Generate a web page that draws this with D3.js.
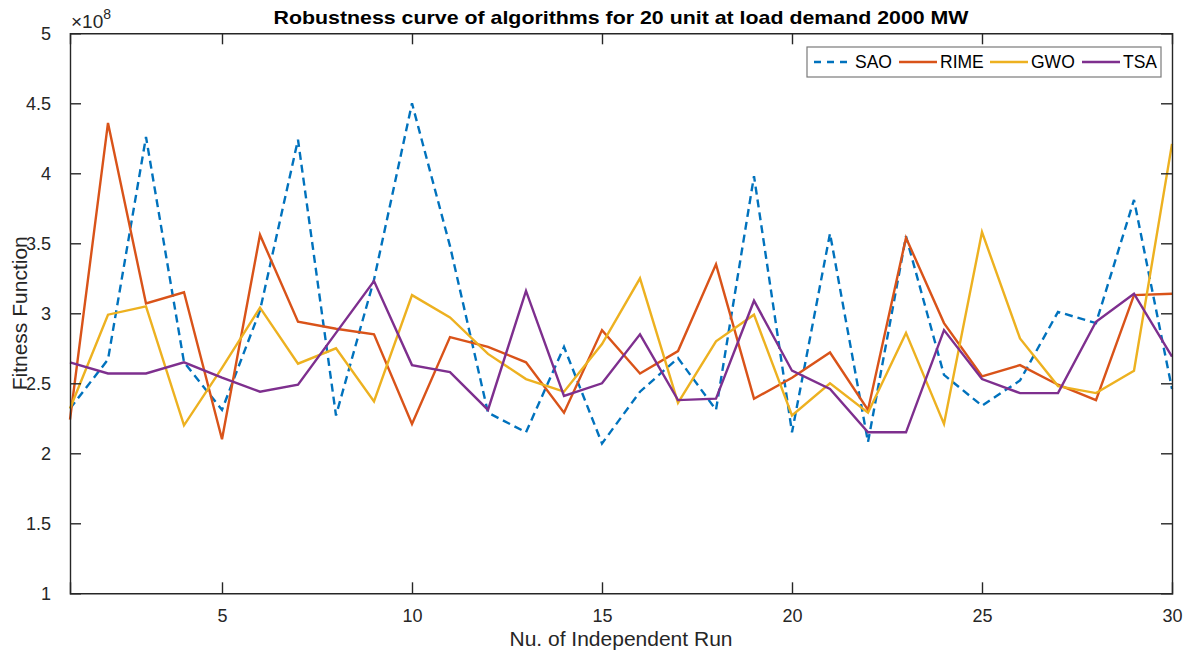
<!DOCTYPE html>
<html>
<head>
<meta charset="utf-8">
<script src="https://cdn.jsdelivr.net/npm/d3@7"></script>
<style>
  body { margin: 0; background: #fff; }
  svg { font-family: "Liberation Sans", Arial, Helvetica, sans-serif; }
</style>
</head>
<body>
<svg id="chart" width="1193" height="660"></svg>
<script>
// independent runs 1..30, fitness values in units of 1e8
var runs = d3.range(1, 31);
var sao  = [2.32, 2.67, 4.26, 2.65, 2.31, 3.02, 4.24, 2.27, 3.24, 4.50,
            3.48, 2.29, 2.15, 2.76, 2.07, 2.44, 2.68, 2.31, 3.98, 2.15,
            3.57, 2.08, 3.55, 2.56, 2.34, 2.52, 3.01, 2.93, 3.81, 2.46];
var rime = [2.24, 4.36, 3.07, 3.15, 2.10, 3.56, 2.94, 2.89, 2.85, 2.21,
            2.83, 2.76, 2.65, 2.29, 2.88, 2.57, 2.73, 3.35, 2.39, 2.54,
            2.72, 2.31, 3.54, 2.93, 2.55, 2.63, 2.49, 2.38, 3.13, 3.14];
var gwo  = [2.32, 2.99, 3.05, 2.20, 2.61, 3.04, 2.64, 2.75, 2.37, 3.13,
            2.97, 2.71, 2.53, 2.44, 2.78, 3.25, 2.36, 2.80, 2.99, 2.27,
            2.50, 2.29, 2.86, 2.21, 3.58, 2.82, 2.48, 2.43, 2.59, 4.21];
var tsa  = [2.65, 2.57, 2.57, 2.65, 2.54, 2.44, 2.49, 2.86, 3.23, 2.63,
            2.58, 2.31, 3.16, 2.41, 2.50, 2.85, 2.38, 2.39, 3.09, 2.59,
            2.46, 2.15, 2.15, 2.88, 2.53, 2.43, 2.43, 2.94, 3.14, 2.69];
var names  = ["SAO", "RIME", "GWO", "TSA"];
var colors = ["#0072BD", "#D95319", "#EDB120", "#7E2F8E"];
var xTicks = [5, 10, 15, 20, 25, 30];
var yTicks = [1, 1.5, 2, 2.5, 3, 3.5, 4, 4.5, 5];

var series = [sao, rime, gwo, tsa];

var svg = d3.select("#chart");
// plot box (window.top is read-only, so no bare "top")
var pl = 70, pr = 1172, pt = 33.3, pb = 593.3;
var axisCol = "#262626";

var x = d3.scaleLinear().domain([1, 30]).range([pl, pr]);
var y = d3.scaleLinear().domain([1, 5]).range([pb, pt]);

// lines first, axes drawn on top
var line = d3.line()
  .x(function(d, i) { return x(runs[i]); })
  .y(function(d) { return y(d); });

var g = svg.append("g");
series.forEach(function(s, k) {
  g.append("path")
    .datum(s)
    .attr("d", line)
    .attr("fill", "none")
    .attr("stroke", colors[k])
    .attr("stroke-width", 2.4)
    .attr("stroke-linejoin", "miter")
    .attr("stroke-dasharray", k == 0 ? "8,5" : null);
});

// axes, ticks pointing inward
var tickLen = 11;
var xb = svg.append("g").attr("transform", "translate(0," + pb + ")")
  .call(d3.axisBottom(x).tickValues(xTicks).tickSize(-tickLen).tickPadding(tickLen + 5));
var xt = svg.append("g").attr("transform", "translate(0," + pt + ")")
  .call(d3.axisTop(x).tickValues(xTicks).tickSize(-tickLen).tickFormat(""));
var yl = svg.append("g").attr("transform", "translate(" + pl + ",0)")
  .call(d3.axisLeft(y).tickValues(yTicks).tickSize(-tickLen).tickPadding(tickLen + 8)
    .tickFormat(function(d) { return d3.format("")(d); }));
var yr = svg.append("g").attr("transform", "translate(" + pr + ",0)")
  .call(d3.axisRight(y).tickValues(yTicks).tickSize(-tickLen).tickFormat(""));

[xb, xt, yl, yr].forEach(function(a) {
  a.select(".domain").attr("stroke", axisCol).attr("stroke-width", 1.4);
  a.selectAll(".tick line").attr("stroke", axisCol).attr("stroke-width", 1.4);
  a.selectAll(".tick text").attr("fill", axisCol).style("font-size", "18px")
    .style("font-family", "'Liberation Sans', Arial, sans-serif");
});
// drop the edge ticks that sit on the frame corners
xb.selectAll(".tick line").filter(function(d) { return d == 30; }).remove();
xt.selectAll(".tick line").filter(function(d) { return d == 30; }).remove();
yl.selectAll(".tick line").filter(function(d) { return d == 1 || d == 5; }).remove();
yr.selectAll(".tick line").filter(function(d) { return d == 1 || d == 5; }).remove();

// exponent label
var ex = svg.append("text").attr("x", 71).attr("y", 28)
  .attr("fill", axisCol).style("font-size", "19px");
ex.append("tspan").text("\u00d710");
ex.append("tspan").attr("dy", -9).style("font-size", "14px").text("8");

// title
svg.append("text")
  .attr("x", (pl + pr) / 2).attr("y", 24)
  .attr("text-anchor", "middle")
  .attr("fill", "#000")
  .style("font-size", "19px").style("font-weight", "bold")
  .attr("textLength", 695).attr("lengthAdjust", "spacingAndGlyphs")
  .text("Robustness curve of algorithms for 20 unit at load demand 2000 MW");

// axis titles
svg.append("text")
  .attr("x", (pl + pr) / 2).attr("y", 646)
  .attr("text-anchor", "middle").attr("fill", axisCol)
  .style("font-size", "21px")
  .text("Nu. of Independent Run");

svg.append("text")
  .attr("transform", "translate(27," + (pt + pb) / 2 + ") rotate(-90)")
  .attr("text-anchor", "middle").attr("fill", axisCol)
  .style("font-size", "21px")
  .text("Fitness Function");

// legend
var lg = svg.append("g");
lg.append("rect")
  .attr("x", 807).attr("y", 47).attr("width", 354).attr("height", 30)
  .attr("fill", "#fff").attr("stroke", "#7a7a7a").attr("stroke-width", 1.2);
var legX = [814, 899, 990, 1082];
names.forEach(function(n, k) {
  lg.append("line")
    .attr("x1", legX[k]).attr("x2", legX[k] + 38)
    .attr("y1", 62).attr("y2", 62)
    .attr("stroke", colors[k]).attr("stroke-width", 2.4)
    .attr("stroke-dasharray", k == 0 ? "7,6" : null);
  lg.append("text")
    .attr("x", legX[k] + 41).attr("y", 68)
    .attr("fill", "#000").style("font-size", "17.5px")
    .text(n);
});
</script>
</body>
</html>
